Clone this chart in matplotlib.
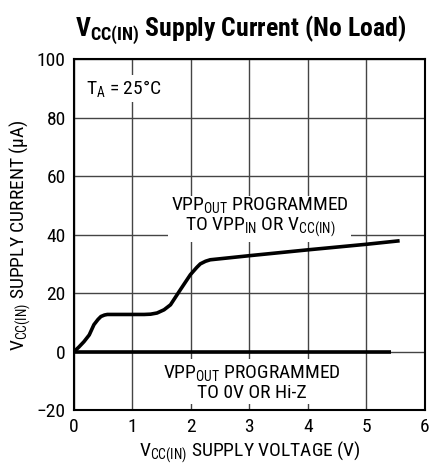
import matplotlib
matplotlib.use('Agg')
import matplotlib.pyplot as plt

# Curva con VPP_OUT programado a VPP_IN o VCC(IN)
v_on = [0.0, 0.08, 0.17, 0.26, 0.34, 0.41, 0.46, 0.52, 0.57, 0.8, 1.2, 1.31, 1.42, 1.54, 1.65, 1.82, 1.99, 2.1, 2.16, 2.25, 2.33, 3.0, 4.0, 5.0, 5.57]
i_on = [0.0, 1.5, 3.4, 5.7, 9.2, 11.0, 12.0, 12.5, 12.7, 12.7, 12.7, 12.8, 13.2, 14.3, 16.0, 21.2, 26.3, 28.8, 30.0, 30.9, 31.4, 32.8, 34.8, 36.7, 37.9]

# Curva con VPP_OUT programado a 0V o Hi-Z
v_off = [0.0, 5.43]
i_off = [0.0, 0.0]

x_ticks = [0, 1, 2, 3, 4, 5, 6]
y_ticks = [-20, 0, 20, 40, 60, 80, 100]
y_ticklabels = ['\u221220', '0', '20', '40', '60', '80', '100']

fuente = 'Roboto Condensed'
plt.rcParams['font.family'] = [fuente, 'DejaVu Sans']
plt.rcParams['mathtext.fontset'] = 'custom'
plt.rcParams['mathtext.rm'] = fuente
plt.rcParams['mathtext.it'] = fuente
plt.rcParams['mathtext.bf'] = fuente + ':bold'

fig = plt.figure(figsize=(4.33, 4.66), dpi=100)
ax = fig.add_axes([0.171, 0.12, 0.81, 0.753])

ax.plot(v_on, i_on, color='black', lw=2.6, solid_capstyle='butt', solid_joinstyle='round', zorder=5)
ax.plot(v_off, i_off, color='black', lw=2.6, solid_capstyle='butt', zorder=5)

ax.set_xlim(0, 6)
ax.set_ylim(-20, 100)
ax.set_xticks(x_ticks)
ax.set_yticks(y_ticks)
ax.set_yticklabels(y_ticklabels)
ax.grid(True, color='#444444', lw=1.0)
ax.tick_params(length=0, labelsize=14, pad=6)
for s in ax.spines.values():
    s.set_linewidth(1.5)

ax.set_xlabel(r'V$_{\rm CC(IN)}$ SUPPLY VOLTAGE (V)', fontsize=14, labelpad=2)
ax.set_ylabel(r'V$_{\rm CC(IN)}$ SUPPLY CURRENT ($\mu$A)', fontsize=14, labelpad=3)

fig.text(0.555, 0.935, r'V$_{\bf CC(IN)}$ Supply Current (No Load)',
         ha='center', va='center', fontsize=18.5, fontweight='bold')

caja = dict(facecolor='white', edgecolor='none', pad=2)
ax.text(0.2, 90, r'T$_{\rm A}$ = 25°C', fontsize=14, ha='left', va='center', bbox=caja, zorder=4)
ax.text(3.18, 46, 'VPP$_{\\rm OUT}$ PROGRAMMED\nTO VPP$_{\\rm IN}$ OR V$_{\\rm CC(IN)}$',
        fontsize=14, ha='center', va='center', linespacing=1.05, bbox=caja, zorder=4)
ax.text(3.04, -10.5, 'VPP$_{\\rm OUT}$ PROGRAMMED\nTO 0V OR Hi-Z',
        fontsize=14, ha='center', va='center', linespacing=1.05, bbox=caja, zorder=4)

plt.savefig('out.png', dpi=100)
